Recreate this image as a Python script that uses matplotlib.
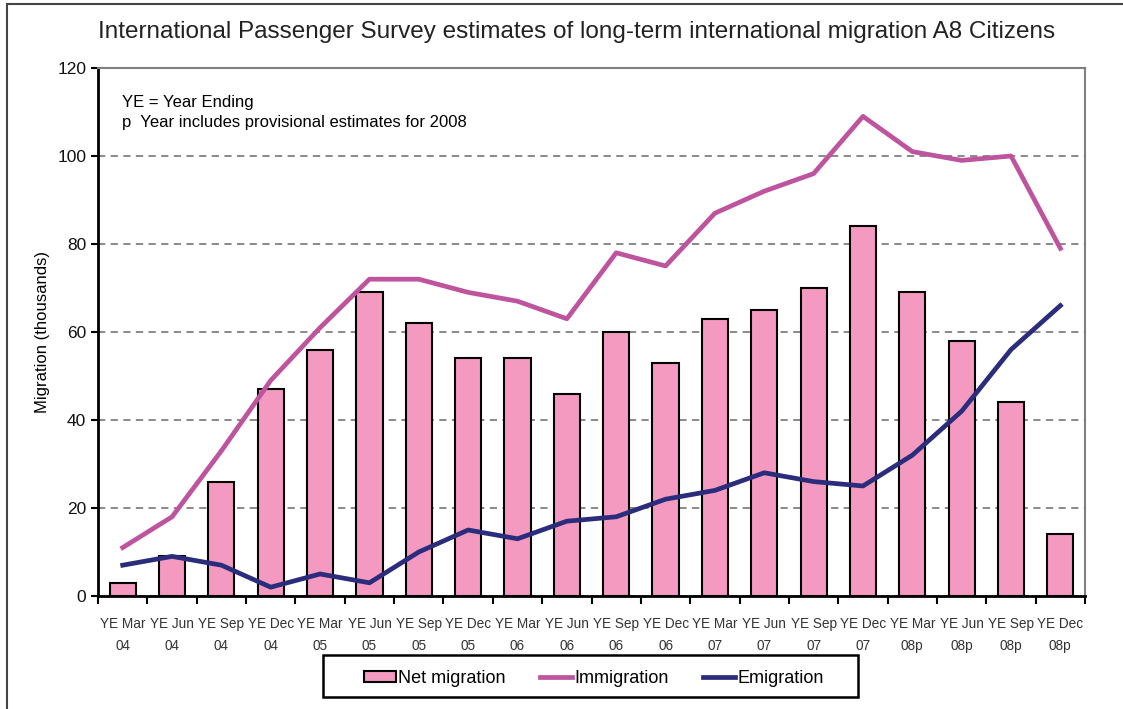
import numpy as np
import matplotlib
matplotlib.use('Agg')
import matplotlib.pyplot as plt
from matplotlib.patches import Rectangle

periods = ['YE Mar\n04', 'YE Jun\n04', 'YE Sep\n04', 'YE Dec\n04',
           'YE Mar\n05', 'YE Jun\n05', 'YE Sep\n05', 'YE Dec\n05',
           'YE Mar\n06', 'YE Jun\n06', 'YE Sep\n06', 'YE Dec\n06',
           'YE Mar\n07', 'YE Jun\n07', 'YE Sep\n07', 'YE Dec\n07',
           'YE Mar\n08p', 'YE Jun\n08p', 'YE Sep\n08p', 'YE Dec\n08p']
net_migration = [3, 9, 26, 47, 56, 69, 62, 54, 54, 46, 60, 53, 63, 65, 70, 84, 69, 58, 44, 14]
immigration = [11, 18, 33, 49, 61, 72, 72, 69, 67, 63, 78, 75, 87, 92, 96, 109, 101, 99, 100, 79]
emigration = [7, 9, 7, 2, 5, 3, 10, 15, 13, 17, 18, 22, 24, 28, 26, 25, 32, 42, 56, 66]

plt.rcParams['font.family'] = ['Liberation Sans', 'DejaVu Sans']

fig = plt.figure(figsize=(11.23, 7.09), dpi=100)
ax = fig.add_axes([0.0873, 0.1594, 0.8789, 0.7447])

x = np.arange(len(periods))
bars = ax.bar(x, net_migration, width=0.53, color='#F49AC1', edgecolor='black',
              linewidth=1.5, label='Net migration', zorder=2)
l1, = ax.plot(x, immigration, color='#BE549E', linewidth=3.4, label='Immigration', zorder=3)
l2, = ax.plot(x, emigration, color='#2B2C7C', linewidth=3.4, label='Emigration', zorder=3)

ax.set_xlim(-0.5, len(periods) - 0.5)
ax.set_ylim(0, 120)
ax.set_yticks(range(0, 121, 20))
ax.tick_params(axis='y', labelsize=12.5, length=5, width=1.5, direction='out', labelcolor='#111111')
ax.yaxis.grid(True, linestyle=(0, (4, 3)), color='#808080', linewidth=1.3, zorder=0)
ax.set_axisbelow(True)

ax.set_xticks(x)
ax.set_xticklabels(periods, fontsize=9.8, color='#333333', linespacing=1.75)
ax.tick_params(axis='x', which='major', length=0, pad=15)
ax.set_xticks(np.arange(-0.5, len(periods)), minor=True)
ax.tick_params(axis='x', which='minor', length=6, width=1.5, direction='out')

ax.spines['left'].set_linewidth(2)
ax.spines['bottom'].set_linewidth(2)
ax.spines['right'].set_color('#808080')
ax.spines['right'].set_linewidth(1.5)
ax.spines['top'].set_color('#808080')
ax.spines['top'].set_linewidth(1.5)

ax.set_ylabel('Migration (thousands)', fontsize=12, labelpad=5)
fig.text(0.513, 0.955, 'International Passenger Survey estimates of long-term international migration A8 Citizens',
         fontsize=17.5, ha='center', va='center', color='#222222')

ax.text(0.024, 0.935, 'YE = Year Ending', transform=ax.transAxes, fontsize=12, va='center')
ax.text(0.024, 0.897, 'p  Year includes provisional estimates for 2008', transform=ax.transAxes,
        fontsize=12, va='center')

# legend box drawn by hand, legend itself without frame
ax.add_patch(Rectangle((0.228, -0.191), 0.542, 0.0793, transform=ax.transAxes, fill=False,
                       edgecolor='black', linewidth=1.8, clip_on=False))
ax.legend([bars, l1, l2], ['Net migration', 'Immigration', 'Emigration'],
          loc='center', bbox_to_anchor=(0.502, -0.156), ncol=3, frameon=False,
          fontsize=13, handlelength=1.8, handleheight=0.5, handletextpad=0.1,
          columnspacing=1.9)

fig.patches.append(Rectangle((0.0062, -0.1), 1.2, 1.0944, transform=fig.transFigure,
                             fill=False, edgecolor='#444444', linewidth=1.5))

fig.savefig('out.png', dpi=100)
